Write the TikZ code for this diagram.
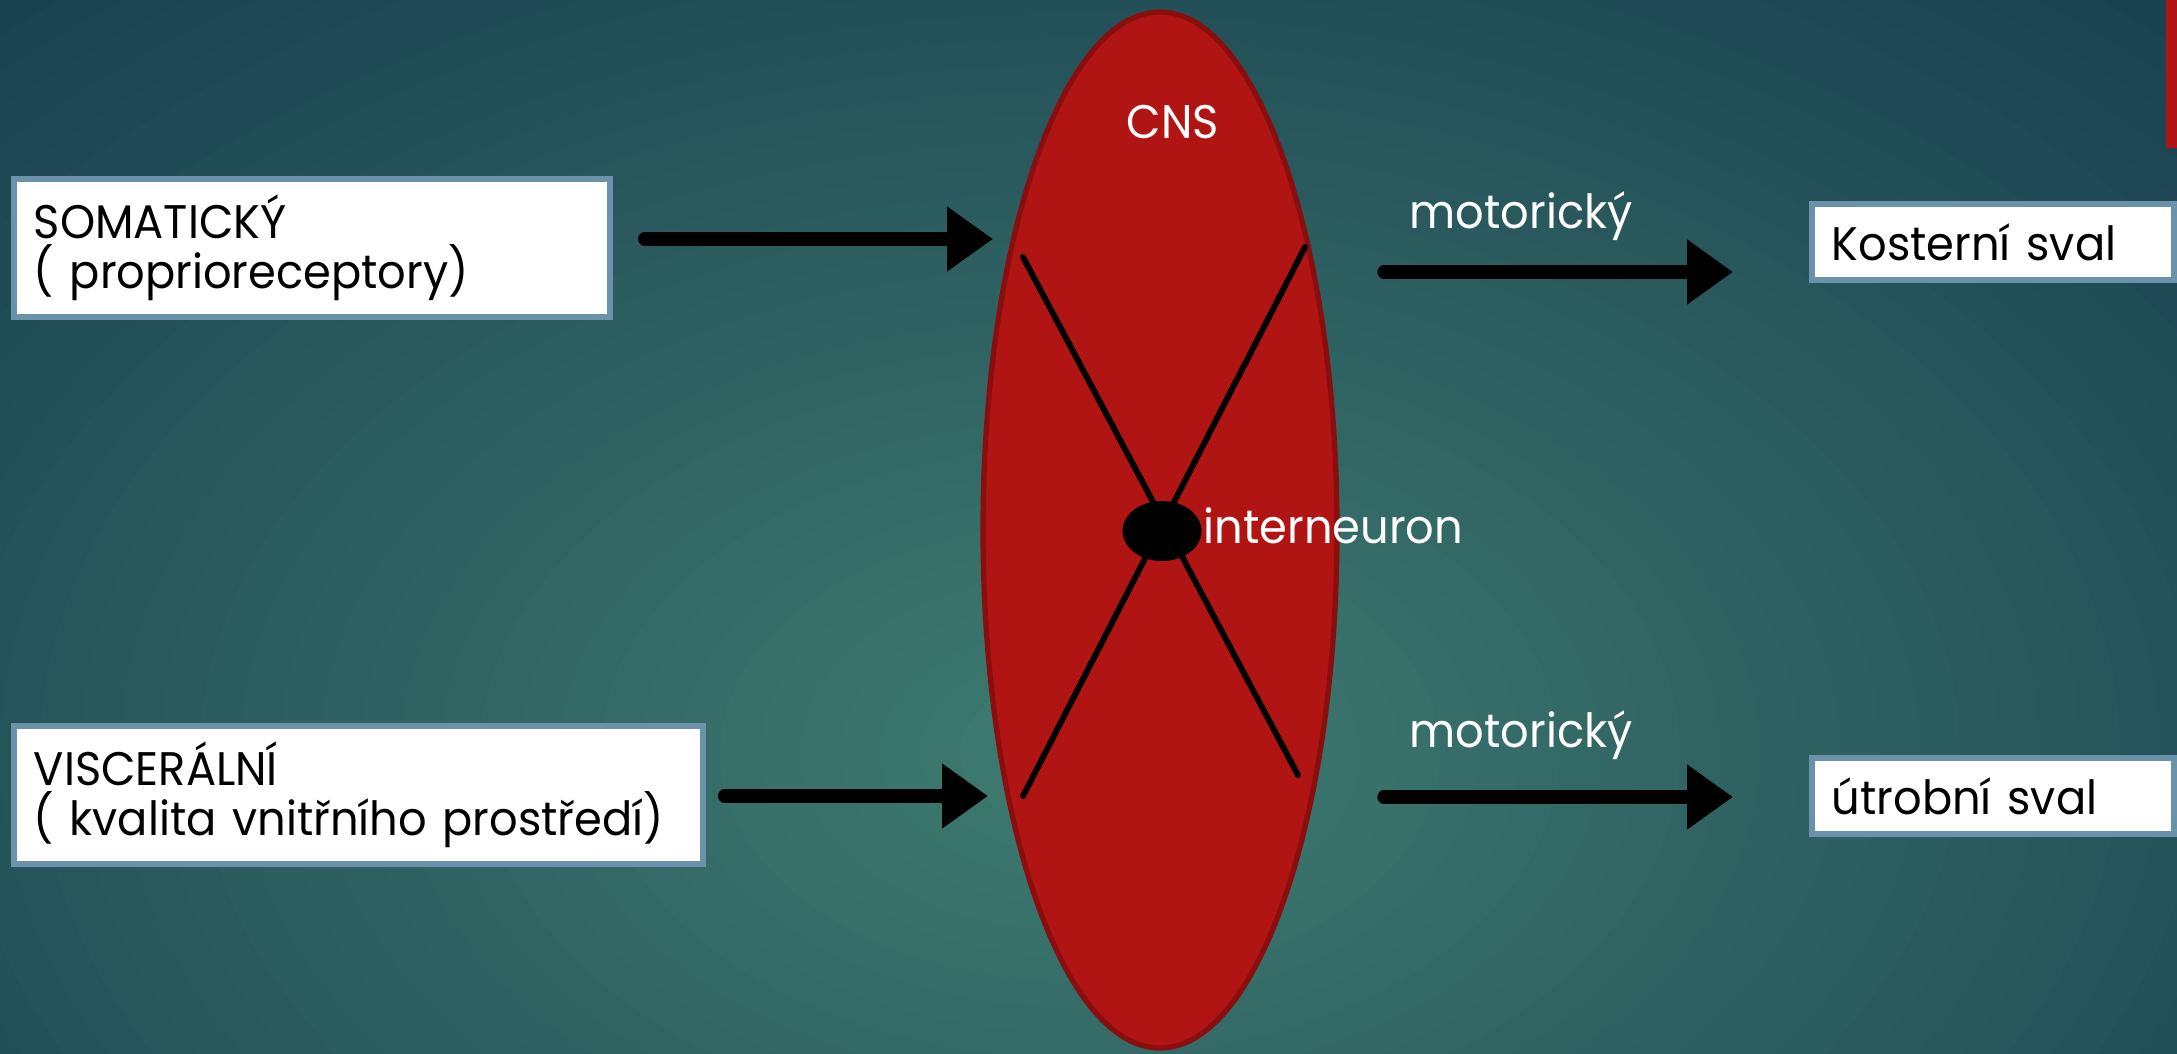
\documentclass[tikz,border=0pt]{standalone}
\usepackage{fontspec}
\setmainfont{Poppins}[FakeStretch=0.95]
\usepackage{xcolor}
\usetikzlibrary{shapes.geometric, arrows.meta}

\definecolor{bgin}{HTML}{3F7C70}
\definecolor{bgout}{HTML}{1A4150}
\definecolor{cnsred}{HTML}{B01514}
\definecolor{cnsedge}{HTML}{8A0E0E}
\definecolor{boxedge}{HTML}{6A93AB}

\begin{document}
\begin{tikzpicture}[
    txt/.style={font=\fontsize{13.4pt}{14.2pt}\selectfont},
    lbl/.style={txt, text=white, inner sep=0pt},
    sensebox/.style={txt, draw=boxedge, line width=1.6pt, fill=white, text=black,
      align=left, inner xsep=2mm, inner ysep=0pt, anchor=west},
    bigarrow/.style={line width=3.8pt, line cap=round, -{Triangle[length=4.6mm, width=6.2mm]}},
    xline/.style={line width=1.7pt, line cap=round}
  ]
    \useasboundingbox (0,0) rectangle (21.77,10.53);

    % Background
    \begin{scope}
      \clip (0,0) rectangle (21.77,10.53);
      \fill[bgout] (0,0) rectangle (21.77,10.53);
      \foreach \i in {1,...,39} {
        \pgfmathsetmacro\f{1-\i/40}
        \pgfmathsetmacro\p{\i*2.5}
        \fill[bgin!\p!bgout] (10.8,3.0) ellipse [x radius=16*\f, y radius=10.2*\f];
      }
    \end{scope}
    \fill[cnsred] (21.66,9.05) rectangle (21.77,10.53);

    % Receptor boxes
    \node[sensebox, text width=5.56cm, minimum height=1.38cm] (soma) at (0.11,8.05) {SOMATICKÝ\\( proprioreceptory)};
    \node[sensebox, text width=6.49cm, minimum height=1.38cm] (visc) at (0.11,2.58) {VISCERÁLNÍ\\( kvalita vnitřního prostředí)};

    % Effector boxes
    \node[sensebox, text width=3.22cm, minimum height=0.76cm] (kost) at (18.09,8.11) {Kosterní sval};
    \node[sensebox, text width=3.22cm, minimum height=0.76cm] (utrob) at (18.09,2.57) {útrobní sval};

    % CNS
    \node[ellipse, draw=cnsedge, line width=1.5pt, fill=cnsred, minimum width=3.54cm, minimum height=10.36cm, inner sep=0pt] (cns) at (11.60,5.23) {};
    \node[lbl, anchor=base] (cnslbl) at (11.73,9.14) {CNS};

    % Crossing pathways
    \coordinate (xa) at (10.23,7.96);
    \coordinate (xb) at (12.98,2.78);
    \coordinate (xc) at (13.05,8.06);
    \coordinate (xd) at (10.23,2.57);
    \draw[xline] (xa) -- (xb);
    \draw[xline] (xc) -- (xd);

    % Interneuron
    \node[ellipse, fill=black, minimum width=0.79cm, minimum height=0.6cm, inner sep=0pt] (inter) at (11.62,5.22) {};
    \node[lbl, anchor=base west] (interlbl) at (12.03,5.10) {interneuron};

    % Arrows into CNS
    \coordinate (somain) at (9.93,8.14);
    \coordinate (viscin) at (9.88,2.57);
    \draw[bigarrow, shorten <=3.2mm] (soma.east |- somain) -- (somain);
    \draw[bigarrow, shorten <=1.9mm] (visc.east |- viscin) -- (viscin);

    % Motor arrows
    \coordinate (kostout) at (13.84,7.81);
    \coordinate (utrobout) at (13.84,2.56);
    \draw[bigarrow, shorten >=7.6mm] (kostout) -- (kost.west |- kostout);
    \draw[bigarrow, shorten >=7.6mm] (utrobout) -- (utrob.west |- utrobout);
    \node[lbl, anchor=base west] (mot1) at (14.09,8.24) {motorický};
    \node[lbl, anchor=base west] (mot2) at (14.09,3.06) {motorický};
  \end{tikzpicture}
\end{document}
